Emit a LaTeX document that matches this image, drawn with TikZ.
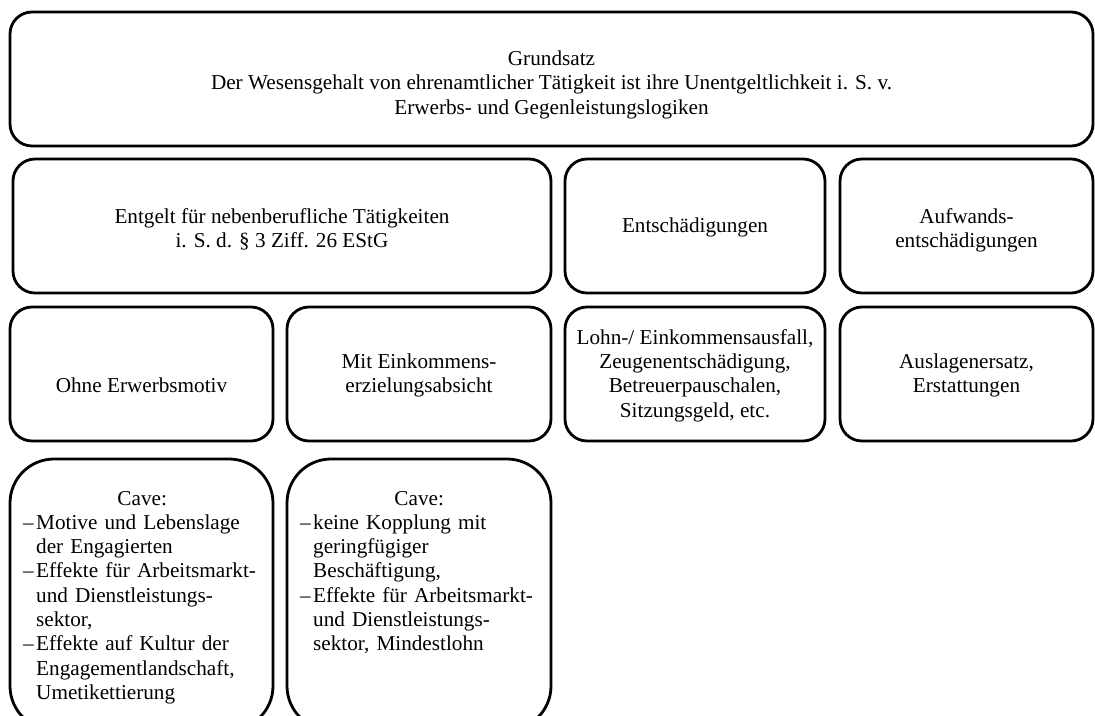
\documentclass[tikz,border=0pt]{standalone}
\usepackage{fontspec}
\setmainfont{Liberation Serif}
\newcommand\unten{\rule[-5.4pt]{0pt}{5.4pt}}
\newcommand\zeilen[2][18.9pt]{\rule{0pt}{#1}#2\unten}
\newcommand\cavepunkt[1]{{\raggedright\hangindent=13pt\hangafter=1\noindent\makebox[13pt][l]{–}#1\par}}

\begin{document}
\begin{tikzpicture}[x=1pt, y=-1pt,
        every node/.style={font=\fontsize{21.2}{24.3}\selectfont},
        kasten/.style={draw, line width=2.8pt, rounded corners=22pt, inner sep=0pt, align=center, minimum height=134pt},
        cavekasten/.style={draw, line width=2.8pt, rounded corners=44pt, inner sep=0pt, minimum height=271pt},
        cavetext/.style={text width=238pt, align=left, inner sep=0pt, anchor=base west}]
        \useasboundingbox (0,0) rectangle (1095,715);
        \clip (0,0) rectangle (1095,715);

        % Grundsatz
        \node[kasten, minimum width=1083pt] (grundsatz) at (551.5, 79) {\zeilen[26.9pt]{Grundsatz\\Der Wesensgehalt von ehrenamtlicher Tätigkeit ist ihre Unentgeltlichkeit i. S. v.\\Erwerbs- und Gegenleistungslogiken}};

        % zweite Reihe
        \node[kasten, minimum width=538pt] (entgelt) at (282, 226) {\zeilen[25pt]{Entgelt für nebenberufliche Tätigkeiten\\i. S. d. § 3 Ziff. 26 EStG}};
        \node[kasten, minimum width=260pt] (entsch) at (695, 226) {\zeilen{Entschädigungen}};
        \node[kasten, minimum width=253pt] (aufwand) at (966.5, 226) {\zeilen[25pt]{Aufwands-\\entschädigungen}};

        % dritte Reihe
        \node[kasten, minimum width=263pt] (ohne) at (141.5, 374) {\zeilen{\\Ohne Erwerbsmotiv}};
        \node[kasten, minimum width=264pt] (mit) at (419, 374) {\zeilen{Mit Einkommens-\\erzielungsabsicht}};
        \node[kasten, minimum width=260pt] (lohn) at (695, 374) {\zeilen{Lohn-/ Einkommensausfall,\\Zeugenentschädigung,\\Betreuerpauschalen,\\Sitzungsgeld, etc.}};
        \node[kasten, minimum width=253pt] (auslagen) at (966.5, 374) {\zeilen{Auslagenersatz,\\Erstattungen}};

        % Cave
        \node[cavekasten, minimum width=263pt] (caveohne) at (141.5, 594.5) {};
        \node[cavekasten, minimum width=264pt] (cavemit) at (419, 594.5) {};
        \node[cavetext] (caveohnetext) at (23, 505) {{\centering Cave:\par}
            \cavepunkt{Motive und Lebenslage\newline der Engagierten}
            \cavepunkt{Effekte für Arbeitsmarkt-\newline und Dienstleistungs-\newline sektor,}
            \cavepunkt{Effekte auf Kultur der\newline Engagementlandschaft,\newline Umetikettierung}};
        \node[cavetext] (cavemittext) at (300, 505) {{\centering Cave:\par}
            \cavepunkt{keine Kopplung mit\newline geringfügiger\newline Beschäftigung,}
            \cavepunkt{Effekte für Arbeitsmarkt-\newline und Dienstleistungs-\newline sektor, Mindestlohn}};
\end{tikzpicture}
\end{document}
